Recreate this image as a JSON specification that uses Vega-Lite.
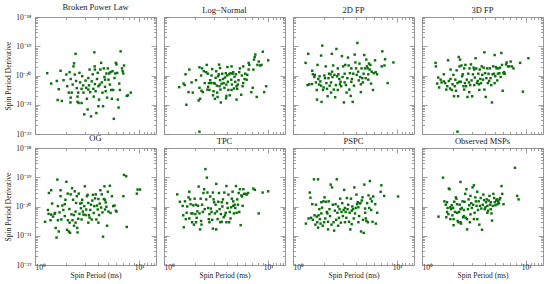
{
"$schema":"https://vega.github.io/schema/vega-lite/v6.json",
"padding":{"left":3,"top":2,"right":0,"bottom":0},
"background":"white",
"datasets":{
"bpl":[{"P":1.31,"Pdot":1.2e-20},{"P":1.43,"Pdot":5.3e-21},{"P":1.62,"Pdot":6.5e-21},{"P":1.76,"Pdot":1.45e-20},{"P":1.69,"Pdot":3.4e-21},{"P":1.65,"Pdot":1.45e-21},{"P":1.81,"Pdot":1.35e-21},{"P":1.88,"Pdot":6.9e-21},{"P":2.0,"Pdot":1.08e-20},{"P":2.04,"Pdot":4.3e-21},{"P":2.11,"Pdot":2.6e-21},{"P":2.15,"Pdot":1.3e-20},{"P":2.2,"Pdot":7.6e-21},{"P":2.25,"Pdot":2.6e-21},{"P":2.2,"Pdot":1.75e-21},{"P":2.19,"Pdot":1.2e-21},{"P":2.3,"Pdot":4.9e-21},{"P":2.34,"Pdot":2.05e-20},{"P":2.37,"Pdot":2.6e-20},{"P":2.45,"Pdot":5.5e-20},{"P":2.41,"Pdot":1.08e-20},{"P":2.48,"Pdot":6.5e-21},{"P":2.52,"Pdot":3.7e-21},{"P":2.56,"Pdot":1.9e-21},{"P":2.56,"Pdot":1.26e-21},{"P":2.62,"Pdot":1.15e-21},{"P":2.67,"Pdot":1.23e-20},{"P":2.71,"Pdot":5.8e-21},{"P":2.8,"Pdot":3.5e-21},{"P":2.84,"Pdot":9.5e-21},{"P":2.9,"Pdot":4.6e-21},{"P":2.92,"Pdot":2.6e-21},{"P":2.97,"Pdot":4.7e-22},{"P":3.06,"Pdot":6.7e-21},{"P":3.1,"Pdot":3.8e-21},{"P":3.15,"Pdot":1.6e-21},{"P":3.2,"Pdot":6.9e-22},{"P":3.25,"Pdot":8.2e-21},{"P":3.3,"Pdot":4.6e-21},{"P":3.34,"Pdot":1.6e-20},{"P":3.39,"Pdot":2.7e-21},{"P":3.45,"Pdot":4.0e-22},{"P":3.5,"Pdot":6.3e-21},{"P":3.58,"Pdot":1.1e-20},{"P":3.63,"Pdot":3.5e-21},{"P":3.66,"Pdot":1.9e-21},{"P":3.71,"Pdot":6.2e-20},{"P":3.74,"Pdot":2.05e-20},{"P":3.76,"Pdot":5.1e-21},{"P":3.82,"Pdot":2.9e-21},{"P":3.88,"Pdot":5.2e-22},{"P":3.94,"Pdot":7.6e-21},{"P":4.0,"Pdot":1.23e-20},{"P":4.06,"Pdot":4.3e-21},{"P":4.12,"Pdot":1.5e-21},{"P":4.18,"Pdot":4.9e-21},{"P":4.24,"Pdot":1.6e-20},{"P":4.31,"Pdot":2.7e-20},{"P":4.37,"Pdot":5.8e-21},{"P":4.44,"Pdot":2.6e-21},{"P":4.5,"Pdot":8.9e-22},{"P":4.57,"Pdot":1.75e-20},{"P":4.64,"Pdot":8.9e-21},{"P":4.7,"Pdot":4.1e-21},{"P":4.77,"Pdot":2.9e-21},{"P":4.84,"Pdot":1.17e-20},{"P":4.92,"Pdot":1.75e-21},{"P":5.0,"Pdot":1.75e-20},{"P":5.07,"Pdot":7.2e-21},{"P":5.15,"Pdot":1.17e-20},{"P":5.23,"Pdot":4.9e-21},{"P":5.31,"Pdot":1.3e-20},{"P":5.39,"Pdot":3.2e-21},{"P":5.47,"Pdot":1.6e-21},{"P":5.55,"Pdot":1.4e-20},{"P":5.63,"Pdot":3.2e-21},{"P":5.71,"Pdot":3.3e-22},{"P":5.8,"Pdot":8.2e-21},{"P":5.89,"Pdot":1.17e-20},{"P":5.97,"Pdot":2.7e-20},{"P":6.06,"Pdot":2.4e-20},{"P":6.15,"Pdot":1.23e-20},{"P":6.24,"Pdot":1.5e-21},{"P":6.34,"Pdot":8.0e-22},{"P":6.43,"Pdot":5.3e-21},{"P":6.63,"Pdot":6.7e-20},{"P":6.84,"Pdot":1.75e-20},{"P":6.94,"Pdot":1.4e-20},{"P":7.04,"Pdot":1.17e-20},{"P":7.15,"Pdot":2.2e-20},{"P":7.6,"Pdot":2.0e-21},{"P":7.8,"Pdot":2.1e-21},{"P":8.3,"Pdot":2.6e-21},{"P":6.53,"Pdot":3.2e-21},{"P":4.06,"Pdot":8.9e-22},{"P":2.8,"Pdot":1.15e-21},{"P":2.6,"Pdot":2.6e-21},{"P":3.76,"Pdot":1.6e-20},{"P":4.7,"Pdot":7.2e-21},{"P":3.25,"Pdot":3.3e-21}],
"logn":[{"P":1.4,"Pdot":4.0e-21},{"P":1.54,"Pdot":5.3e-21},{"P":1.58,"Pdot":4.7e-21},{"P":1.61,"Pdot":1.1e-20},{"P":1.64,"Pdot":1.0e-21},{"P":1.72,"Pdot":2.7e-21},{"P":1.75,"Pdot":1.6e-20},{"P":1.84,"Pdot":5.8e-21},{"P":2.03,"Pdot":6.9e-21},{"P":2.15,"Pdot":1.4e-21},{"P":2.19,"Pdot":3.8e-21},{"P":2.19,"Pdot":1.9e-20},{"P":2.22,"Pdot":1.6e-21},{"P":2.19,"Pdot":1.2e-22},{"P":2.27,"Pdot":1.0e-20},{"P":2.29,"Pdot":3.0e-21},{"P":2.32,"Pdot":1.75e-20},{"P":2.36,"Pdot":2.7e-21},{"P":2.41,"Pdot":1.4e-20},{"P":2.46,"Pdot":5.5e-21},{"P":2.54,"Pdot":1.3e-20},{"P":2.57,"Pdot":2.3e-20},{"P":2.61,"Pdot":3.3e-21},{"P":2.65,"Pdot":4.1e-21},{"P":2.7,"Pdot":5.5e-21},{"P":2.73,"Pdot":3.2e-21},{"P":2.78,"Pdot":6.9e-21},{"P":2.86,"Pdot":1.0e-20},{"P":2.9,"Pdot":1.65e-20},{"P":2.95,"Pdot":2.1e-21},{"P":2.99,"Pdot":2.9e-21},{"P":3.01,"Pdot":5.5e-21},{"P":3.08,"Pdot":5.3e-21},{"P":3.13,"Pdot":8.3e-21},{"P":3.17,"Pdot":1.4e-20},{"P":3.22,"Pdot":4.5e-21},{"P":3.24,"Pdot":2.6e-21},{"P":3.27,"Pdot":1.85e-21},{"P":3.31,"Pdot":9.4e-21},{"P":3.36,"Pdot":1.1e-20},{"P":3.38,"Pdot":2.35e-20},{"P":3.41,"Pdot":4.3e-21},{"P":3.45,"Pdot":6.9e-21},{"P":3.48,"Pdot":3.3e-21},{"P":3.51,"Pdot":1.2e-21},{"P":3.57,"Pdot":5.2e-21},{"P":3.62,"Pdot":1.15e-20},{"P":3.68,"Pdot":7.6e-21},{"P":3.74,"Pdot":5.5e-21},{"P":3.8,"Pdot":3.8e-21},{"P":3.85,"Pdot":8.5e-21},{"P":3.92,"Pdot":1.2e-20},{"P":3.94,"Pdot":1.65e-21},{"P":3.97,"Pdot":4.9e-21},{"P":4.03,"Pdot":1.0e-20},{"P":4.06,"Pdot":1.95e-20},{"P":4.1,"Pdot":6.1e-21},{"P":4.15,"Pdot":3.2e-21},{"P":4.22,"Pdot":1.1e-20},{"P":4.28,"Pdot":2.1e-21},{"P":4.35,"Pdot":1.2e-20},{"P":4.42,"Pdot":7.2e-21},{"P":4.45,"Pdot":2.05e-20},{"P":4.49,"Pdot":4.9e-21},{"P":4.55,"Pdot":1.15e-20},{"P":4.62,"Pdot":1.3e-20},{"P":4.69,"Pdot":3.6e-21},{"P":4.75,"Pdot":9.0e-21},{"P":4.82,"Pdot":6.1e-21},{"P":4.89,"Pdot":1.1e-20},{"P":4.97,"Pdot":4.3e-21},{"P":5.04,"Pdot":3.5e-21},{"P":5.11,"Pdot":4.9e-21},{"P":5.19,"Pdot":6.9e-21},{"P":5.27,"Pdot":1.3e-20},{"P":5.35,"Pdot":1.75e-20},{"P":5.51,"Pdot":2.2e-21},{"P":5.59,"Pdot":1.0e-20},{"P":5.68,"Pdot":4.3e-21},{"P":5.76,"Pdot":5.5e-21},{"P":5.93,"Pdot":7.6e-21},{"P":6.02,"Pdot":1.15e-20},{"P":6.21,"Pdot":7.2e-21},{"P":6.3,"Pdot":1.05e-20},{"P":6.49,"Pdot":1.6e-20},{"P":6.59,"Pdot":2.3e-20},{"P":6.89,"Pdot":2.7e-21},{"P":7.1,"Pdot":3.8e-21},{"P":7.21,"Pdot":1.6e-20},{"P":7.31,"Pdot":3.5e-20},{"P":7.42,"Pdot":4.3e-20},{"P":7.53,"Pdot":5.2e-20},{"P":7.76,"Pdot":1.85e-21},{"P":7.88,"Pdot":2.3e-20},{"P":8.12,"Pdot":3.0e-20},{"P":8.37,"Pdot":2.2e-20},{"P":8.62,"Pdot":2.3e-20},{"P":8.88,"Pdot":6.5e-20},{"P":9.15,"Pdot":2.7e-21},{"P":9.55,"Pdot":4.3e-21},{"P":10.0,"Pdot":3.3e-20},{"P":6.49,"Pdot":2.7e-20},{"P":3.97,"Pdot":2.0e-21},{"P":3.08,"Pdot":1.6e-21},{"P":4.97,"Pdot":1.5e-21},{"P":5.76,"Pdot":2.05e-20},{"P":4.45,"Pdot":3.2e-21},{"P":2.84,"Pdot":5.5e-21},{"P":2.63,"Pdot":1.15e-20},{"P":1.89,"Pdot":2.6e-21},{"P":3.45,"Pdot":1.8e-20}],
"fp2d":[{"P":1.32,"Pdot":2.7e-20},{"P":1.38,"Pdot":4.7e-21},{"P":1.4,"Pdot":5.5e-20},{"P":1.43,"Pdot":5.0e-21},{"P":1.52,"Pdot":5.1e-21},{"P":1.53,"Pdot":1.45e-20},{"P":1.55,"Pdot":1.1e-20},{"P":1.6,"Pdot":8.9e-21},{"P":1.62,"Pdot":1.05e-20},{"P":1.66,"Pdot":5.8e-21},{"P":1.69,"Pdot":3.2e-21},{"P":1.7,"Pdot":1.5e-21},{"P":1.72,"Pdot":2.3e-20},{"P":1.75,"Pdot":7.6e-21},{"P":1.78,"Pdot":4.9e-21},{"P":1.8,"Pdot":9.4e-21},{"P":1.83,"Pdot":6.3e-21},{"P":1.86,"Pdot":4.8e-20},{"P":1.88,"Pdot":1.25e-21},{"P":1.91,"Pdot":1.05e-19},{"P":1.94,"Pdot":3.2e-21},{"P":1.97,"Pdot":3.9e-21},{"P":2.0,"Pdot":1.0e-20},{"P":2.03,"Pdot":8.1e-21},{"P":2.06,"Pdot":2.05e-20},{"P":2.09,"Pdot":5.5e-21},{"P":2.12,"Pdot":3.5e-21},{"P":2.15,"Pdot":1.95e-21},{"P":2.19,"Pdot":8.1e-21},{"P":2.22,"Pdot":1.15e-20},{"P":2.25,"Pdot":4.5e-21},{"P":2.29,"Pdot":1.1e-20},{"P":2.32,"Pdot":5.8e-21},{"P":2.36,"Pdot":5.5e-20},{"P":2.37,"Pdot":1.35e-20},{"P":2.39,"Pdot":8.9e-21},{"P":2.43,"Pdot":2.2e-20},{"P":2.46,"Pdot":3.3e-21},{"P":2.5,"Pdot":1.05e-20},{"P":2.54,"Pdot":1.8e-21},{"P":2.58,"Pdot":4.7e-21},{"P":2.61,"Pdot":8.1e-20},{"P":2.65,"Pdot":9.4e-21},{"P":2.69,"Pdot":3.2e-21},{"P":2.73,"Pdot":1.1e-20},{"P":2.78,"Pdot":7.6e-21},{"P":2.82,"Pdot":5.0e-21},{"P":2.86,"Pdot":6.1e-21},{"P":2.9,"Pdot":4.3e-21},{"P":2.95,"Pdot":4.6e-20},{"P":2.99,"Pdot":8.9e-21},{"P":3.03,"Pdot":2.05e-20},{"P":3.08,"Pdot":1.2e-21},{"P":3.13,"Pdot":1.15e-20},{"P":3.17,"Pdot":2.3e-20},{"P":3.22,"Pdot":4.7e-21},{"P":3.27,"Pdot":2.6e-21},{"P":3.32,"Pdot":8.1e-21},{"P":3.37,"Pdot":4.1e-20},{"P":3.42,"Pdot":2.2e-20},{"P":3.47,"Pdot":3.3e-21},{"P":3.52,"Pdot":1.2e-20},{"P":3.58,"Pdot":2.0e-21},{"P":3.63,"Pdot":6.1e-21},{"P":3.68,"Pdot":7.6e-21},{"P":3.74,"Pdot":1.25e-21},{"P":3.79,"Pdot":1.15e-20},{"P":3.85,"Pdot":4.5e-21},{"P":3.91,"Pdot":5.2e-20},{"P":3.97,"Pdot":2.8e-20},{"P":4.03,"Pdot":1.75e-20},{"P":4.09,"Pdot":1.05e-20},{"P":4.15,"Pdot":1.3e-19},{"P":4.22,"Pdot":1.35e-20},{"P":4.28,"Pdot":6.8e-21},{"P":4.35,"Pdot":2.55e-20},{"P":4.41,"Pdot":8.9e-21},{"P":4.48,"Pdot":5.0e-21},{"P":4.55,"Pdot":1.75e-20},{"P":4.62,"Pdot":8.1e-21},{"P":4.69,"Pdot":5.8e-21},{"P":4.76,"Pdot":1.15e-20},{"P":4.83,"Pdot":5.0e-20},{"P":4.91,"Pdot":1.75e-20},{"P":4.98,"Pdot":8.1e-21},{"P":5.05,"Pdot":3.5e-20},{"P":5.13,"Pdot":2.05e-20},{"P":5.21,"Pdot":1.75e-20},{"P":5.28,"Pdot":1.1e-20},{"P":5.36,"Pdot":2.55e-20},{"P":5.44,"Pdot":1.6e-20},{"P":5.53,"Pdot":2.3e-20},{"P":5.61,"Pdot":5.3e-21},{"P":5.69,"Pdot":1.35e-20},{"P":5.86,"Pdot":3.2e-21},{"P":5.95,"Pdot":1.2e-20},{"P":6.13,"Pdot":3.3e-20},{"P":6.22,"Pdot":1.3e-20},{"P":6.41,"Pdot":1.1e-20},{"P":7.1,"Pdot":2.05e-20},{"P":7.2,"Pdot":6.7e-20},{"P":7.55,"Pdot":2.2e-20},{"P":7.65,"Pdot":3.6e-20},{"P":8.1,"Pdot":5.5e-21},{"P":9.2,"Pdot":2.8e-20},{"P":4.48,"Pdot":2.7e-21},{"P":3.13,"Pdot":5.8e-21},{"P":2.32,"Pdot":2.6e-21},{"P":1.86,"Pdot":4.5e-21},{"P":2.69,"Pdot":1.75e-20},{"P":3.63,"Pdot":1.75e-20},{"P":5.28,"Pdot":7.2e-21}],
"fp3d":[{"P":1.35,"Pdot":2.7e-20},{"P":1.36,"Pdot":2.05e-20},{"P":1.4,"Pdot":5.3e-21},{"P":1.43,"Pdot":8.5e-21},{"P":1.46,"Pdot":3.9e-21},{"P":1.51,"Pdot":7.2e-21},{"P":1.54,"Pdot":5.8e-21},{"P":1.62,"Pdot":1.1e-20},{"P":1.67,"Pdot":5.5e-21},{"P":1.71,"Pdot":3.3e-21},{"P":1.75,"Pdot":4.3e-21},{"P":1.78,"Pdot":3.3e-20},{"P":1.81,"Pdot":6.5e-21},{"P":1.86,"Pdot":3.6e-21},{"P":1.88,"Pdot":7.6e-21},{"P":1.93,"Pdot":3.2e-21},{"P":1.96,"Pdot":5.0e-21},{"P":2.0,"Pdot":1.05e-20},{"P":2.03,"Pdot":1.95e-21},{"P":2.06,"Pdot":4.3e-21},{"P":2.09,"Pdot":7.2e-21},{"P":2.12,"Pdot":3.0e-21},{"P":2.15,"Pdot":1.5e-20},{"P":2.19,"Pdot":5.5e-21},{"P":2.22,"Pdot":1.95e-21},{"P":2.25,"Pdot":4.3e-20},{"P":2.27,"Pdot":6.1e-21},{"P":2.29,"Pdot":2.05e-20},{"P":2.32,"Pdot":3.5e-20},{"P":2.36,"Pdot":6.1e-21},{"P":2.39,"Pdot":2.2e-20},{"P":2.43,"Pdot":9.4e-21},{"P":2.46,"Pdot":1.1e-20},{"P":2.5,"Pdot":4.3e-21},{"P":2.54,"Pdot":1.75e-20},{"P":2.58,"Pdot":5.5e-21},{"P":2.61,"Pdot":2.3e-20},{"P":2.65,"Pdot":4.3e-21},{"P":2.69,"Pdot":7.2e-21},{"P":2.73,"Pdot":1.85e-21},{"P":2.78,"Pdot":1.15e-20},{"P":2.82,"Pdot":5.8e-21},{"P":2.86,"Pdot":1.75e-20},{"P":2.9,"Pdot":4.7e-21},{"P":2.95,"Pdot":2.4e-20},{"P":2.99,"Pdot":6.8e-21},{"P":3.03,"Pdot":1.95e-21},{"P":3.08,"Pdot":1.1e-20},{"P":3.13,"Pdot":1.85e-20},{"P":3.17,"Pdot":4.7e-21},{"P":3.22,"Pdot":8.5e-21},{"P":3.27,"Pdot":3.9e-20},{"P":3.32,"Pdot":1.75e-20},{"P":3.37,"Pdot":5.5e-21},{"P":3.42,"Pdot":6.5e-21},{"P":3.47,"Pdot":1.15e-20},{"P":3.52,"Pdot":5.0e-21},{"P":3.58,"Pdot":1.6e-20},{"P":3.63,"Pdot":7.6e-21},{"P":3.68,"Pdot":5.5e-21},{"P":3.74,"Pdot":2.05e-20},{"P":3.79,"Pdot":1.05e-20},{"P":3.85,"Pdot":7.2e-21},{"P":3.91,"Pdot":1.85e-20},{"P":3.97,"Pdot":6.2e-20},{"P":4.03,"Pdot":1.2e-20},{"P":4.09,"Pdot":1.85e-21},{"P":4.15,"Pdot":8.1e-21},{"P":4.22,"Pdot":1.75e-20},{"P":4.28,"Pdot":5.5e-21},{"P":4.35,"Pdot":1.15e-20},{"P":4.41,"Pdot":6.5e-21},{"P":4.48,"Pdot":1.75e-20},{"P":4.55,"Pdot":8.1e-21},{"P":4.62,"Pdot":4.7e-21},{"P":4.69,"Pdot":1.2e-21},{"P":4.76,"Pdot":1.1e-20},{"P":4.83,"Pdot":2.05e-20},{"P":4.91,"Pdot":1.15e-20},{"P":4.98,"Pdot":5.0e-20},{"P":5.05,"Pdot":9.4e-21},{"P":5.13,"Pdot":1.95e-20},{"P":5.21,"Pdot":1.75e-20},{"P":5.28,"Pdot":6.8e-21},{"P":5.36,"Pdot":1.15e-20},{"P":5.44,"Pdot":1.75e-20},{"P":5.53,"Pdot":1.2e-20},{"P":5.61,"Pdot":1.85e-20},{"P":5.69,"Pdot":8.9e-21},{"P":5.78,"Pdot":5.9e-20},{"P":5.86,"Pdot":2.3e-20},{"P":5.95,"Pdot":3.0e-21},{"P":6.04,"Pdot":1.2e-20},{"P":6.13,"Pdot":1.3e-20},{"P":6.22,"Pdot":1.15e-20},{"P":6.41,"Pdot":2.4e-20},{"P":6.5,"Pdot":2.8e-20},{"P":6.69,"Pdot":2.05e-20},{"P":6.89,"Pdot":2.05e-20},{"P":7.1,"Pdot":3.0e-20},{"P":7.3,"Pdot":2.05e-20},{"P":7.55,"Pdot":1.75e-20},{"P":8.75,"Pdot":2.7e-20},{"P":9.3,"Pdot":2.8e-21},{"P":10.5,"Pdot":3.9e-20},{"P":2.19,"Pdot":1.2e-22},{"P":3.17,"Pdot":1.6e-20},{"P":2.54,"Pdot":3.3e-21},{"P":1.88,"Pdot":1.6e-20},{"P":3.97,"Pdot":3.3e-21},{"P":4.98,"Pdot":5.5e-21},{"P":1.62,"Pdot":6.3e-21},{"P":2.84,"Pdot":2.7e-21},{"P":3.55,"Pdot":3.2e-21}],
"og":[{"P":1.25,"Pdot":3.0e-21},{"P":1.33,"Pdot":7.6e-21},{"P":1.35,"Pdot":5.6e-21},{"P":1.36,"Pdot":2.9e-20},{"P":1.41,"Pdot":3.4e-21},{"P":1.43,"Pdot":3.6e-20},{"P":1.46,"Pdot":1.26e-20},{"P":1.49,"Pdot":4.5e-21},{"P":1.54,"Pdot":5.6e-21},{"P":1.56,"Pdot":6.0e-21},{"P":1.58,"Pdot":1.85e-21},{"P":1.61,"Pdot":8.7e-22},{"P":1.64,"Pdot":8.3e-20},{"P":1.66,"Pdot":3.4e-21},{"P":1.69,"Pdot":1.4e-21},{"P":1.72,"Pdot":6.3e-21},{"P":1.76,"Pdot":3.6e-20},{"P":1.79,"Pdot":3.6e-21},{"P":1.83,"Pdot":1.08e-20},{"P":1.87,"Pdot":7.6e-21},{"P":1.93,"Pdot":1.2e-20},{"P":1.96,"Pdot":1.7e-20},{"P":2.0,"Pdot":7.0e-20},{"P":2.03,"Pdot":1.6e-21},{"P":2.06,"Pdot":2.75e-20},{"P":2.07,"Pdot":3.4e-21},{"P":2.11,"Pdot":1.4e-21},{"P":2.14,"Pdot":8.2e-21},{"P":2.17,"Pdot":1.26e-21},{"P":2.2,"Pdot":2.6e-20},{"P":2.24,"Pdot":5.4e-21},{"P":2.27,"Pdot":4.2e-20},{"P":2.29,"Pdot":3.4e-21},{"P":2.32,"Pdot":1.7e-20},{"P":2.36,"Pdot":5.1e-21},{"P":2.37,"Pdot":2.2e-21},{"P":2.41,"Pdot":3.3e-20},{"P":2.45,"Pdot":2.8e-21},{"P":2.48,"Pdot":1.32e-20},{"P":2.52,"Pdot":2.25e-20},{"P":2.54,"Pdot":1.85e-21},{"P":2.56,"Pdot":1.3e-21},{"P":2.6,"Pdot":3.8e-21},{"P":2.63,"Pdot":2.75e-20},{"P":2.67,"Pdot":5.6e-21},{"P":2.71,"Pdot":1.26e-20},{"P":2.76,"Pdot":8.7e-21},{"P":2.8,"Pdot":3.6e-21},{"P":2.84,"Pdot":1.7e-20},{"P":2.88,"Pdot":6.7e-21},{"P":2.92,"Pdot":5.3e-21},{"P":2.97,"Pdot":1.03e-20},{"P":3.01,"Pdot":4.9e-20},{"P":3.06,"Pdot":5.1e-21},{"P":3.1,"Pdot":7.9e-21},{"P":3.15,"Pdot":2.25e-20},{"P":3.2,"Pdot":2.5e-20},{"P":3.25,"Pdot":1.32e-20},{"P":3.29,"Pdot":5.1e-21},{"P":3.34,"Pdot":4.2e-21},{"P":3.39,"Pdot":7.6e-21},{"P":3.45,"Pdot":1.15e-20},{"P":3.5,"Pdot":3.6e-21},{"P":3.55,"Pdot":1.6e-20},{"P":3.6,"Pdot":2.5e-20},{"P":3.66,"Pdot":6.0e-21},{"P":3.71,"Pdot":1.03e-20},{"P":3.77,"Pdot":1.9e-20},{"P":3.83,"Pdot":2.6e-20},{"P":3.88,"Pdot":3.6e-21},{"P":3.94,"Pdot":1.08e-20},{"P":4.0,"Pdot":7.9e-21},{"P":4.06,"Pdot":1.8e-20},{"P":4.12,"Pdot":5.1e-21},{"P":4.18,"Pdot":1.26e-20},{"P":4.24,"Pdot":3.6e-20},{"P":4.31,"Pdot":9.2e-21},{"P":4.37,"Pdot":2.6e-20},{"P":4.44,"Pdot":6.3e-21},{"P":4.5,"Pdot":9.3e-22},{"P":4.57,"Pdot":1.8e-20},{"P":4.64,"Pdot":4.9e-20},{"P":4.7,"Pdot":7.9e-21},{"P":4.77,"Pdot":1.38e-20},{"P":4.84,"Pdot":9.8e-21},{"P":4.92,"Pdot":2.2e-21},{"P":5.0,"Pdot":3.2e-20},{"P":5.07,"Pdot":6.7e-21},{"P":5.23,"Pdot":5.1e-20},{"P":5.31,"Pdot":6.0e-21},{"P":5.47,"Pdot":2.25e-20},{"P":5.63,"Pdot":1.03e-20},{"P":5.8,"Pdot":1.08e-20},{"P":5.97,"Pdot":7.2e-21},{"P":6.06,"Pdot":6.7e-21},{"P":7.05,"Pdot":2.25e-20},{"P":7.15,"Pdot":1.2e-19},{"P":7.5,"Pdot":1.08e-19},{"P":7.6,"Pdot":2.0e-21},{"P":9.5,"Pdot":2.75e-20},{"P":9.65,"Pdot":3.8e-20},{"P":10.2,"Pdot":3.8e-20},{"P":1.76,"Pdot":2.25e-20},{"P":1.93,"Pdot":4.7e-21},{"P":2.45,"Pdot":6.7e-21},{"P":3.25,"Pdot":2.8e-21},{"P":4.06,"Pdot":2.8e-21},{"P":2.8,"Pdot":1.32e-20},{"P":2.15,"Pdot":2.8e-21},{"P":4.7,"Pdot":1.7e-20},{"P":1.66,"Pdot":1.03e-20},{"P":1.43,"Pdot":5.3e-21}],
"tpc":[{"P":1.34,"Pdot":2.6e-20},{"P":1.42,"Pdot":1.45e-20},{"P":1.51,"Pdot":1.05e-20},{"P":1.53,"Pdot":5.0e-21},{"P":1.55,"Pdot":1.95e-21},{"P":1.59,"Pdot":1.5e-20},{"P":1.62,"Pdot":3.7e-21},{"P":1.65,"Pdot":6.1e-21},{"P":1.67,"Pdot":1.0e-20},{"P":1.72,"Pdot":2.05e-20},{"P":1.75,"Pdot":3.2e-20},{"P":1.78,"Pdot":1.75e-20},{"P":1.8,"Pdot":1.2e-20},{"P":1.83,"Pdot":5.8e-21},{"P":1.86,"Pdot":2.9e-21},{"P":1.88,"Pdot":5.8e-21},{"P":1.91,"Pdot":1.1e-20},{"P":1.94,"Pdot":2.4e-21},{"P":1.97,"Pdot":1.85e-20},{"P":2.0,"Pdot":5.5e-21},{"P":2.03,"Pdot":1.15e-20},{"P":2.06,"Pdot":4.1e-21},{"P":2.09,"Pdot":6.8e-21},{"P":2.12,"Pdot":1.05e-20},{"P":2.15,"Pdot":4.8e-20},{"P":2.19,"Pdot":5.8e-21},{"P":2.22,"Pdot":1.65e-21},{"P":2.25,"Pdot":1.85e-20},{"P":2.27,"Pdot":3.2e-21},{"P":2.29,"Pdot":2.4e-21},{"P":2.32,"Pdot":1.15e-20},{"P":2.36,"Pdot":6.5e-21},{"P":2.39,"Pdot":2.9e-20},{"P":2.43,"Pdot":3.9e-20},{"P":2.46,"Pdot":8.1e-21},{"P":2.5,"Pdot":1.9e-19},{"P":2.54,"Pdot":1.75e-20},{"P":2.58,"Pdot":9.7e-20},{"P":2.61,"Pdot":3.0e-20},{"P":2.65,"Pdot":8.9e-21},{"P":2.69,"Pdot":3.7e-21},{"P":2.73,"Pdot":5.5e-21},{"P":2.78,"Pdot":2.2e-20},{"P":2.82,"Pdot":8.5e-21},{"P":2.86,"Pdot":6.5e-21},{"P":2.9,"Pdot":3.5e-21},{"P":2.95,"Pdot":1.75e-21},{"P":2.99,"Pdot":1.75e-20},{"P":3.03,"Pdot":1.4e-20},{"P":3.08,"Pdot":5.8e-21},{"P":3.13,"Pdot":1.15e-20},{"P":3.17,"Pdot":5.9e-20},{"P":3.22,"Pdot":6.8e-21},{"P":3.27,"Pdot":3.7e-21},{"P":3.32,"Pdot":1.45e-20},{"P":3.37,"Pdot":2.9e-20},{"P":3.42,"Pdot":8.1e-21},{"P":3.47,"Pdot":2.9e-21},{"P":3.52,"Pdot":5.5e-21},{"P":3.58,"Pdot":3.0e-21},{"P":3.63,"Pdot":1.0e-20},{"P":3.68,"Pdot":1.75e-20},{"P":3.74,"Pdot":4.3e-21},{"P":3.79,"Pdot":3.0e-20},{"P":3.85,"Pdot":5.0e-21},{"P":3.91,"Pdot":6.1e-21},{"P":3.97,"Pdot":2.9e-21},{"P":4.03,"Pdot":1.3e-20},{"P":4.09,"Pdot":8.9e-21},{"P":4.15,"Pdot":2.55e-20},{"P":4.22,"Pdot":2.9e-21},{"P":4.28,"Pdot":6.5e-21},{"P":4.35,"Pdot":3.9e-21},{"P":4.41,"Pdot":9.4e-21},{"P":4.48,"Pdot":1.85e-20},{"P":4.55,"Pdot":3.2e-20},{"P":4.62,"Pdot":1.5e-20},{"P":4.69,"Pdot":5.8e-21},{"P":4.76,"Pdot":1.15e-20},{"P":4.83,"Pdot":8.9e-21},{"P":4.91,"Pdot":5.0e-20},{"P":4.98,"Pdot":6.1e-21},{"P":5.05,"Pdot":1.75e-20},{"P":5.13,"Pdot":1.15e-20},{"P":5.21,"Pdot":2.9e-20},{"P":5.28,"Pdot":6.5e-21},{"P":5.36,"Pdot":3.9e-20},{"P":5.44,"Pdot":2.3e-21},{"P":5.53,"Pdot":2.4e-20},{"P":5.61,"Pdot":2.2e-20},{"P":5.69,"Pdot":1.05e-20},{"P":5.78,"Pdot":3.9e-20},{"P":5.86,"Pdot":2.7e-20},{"P":6.04,"Pdot":2.7e-20},{"P":6.22,"Pdot":2.55e-20},{"P":6.41,"Pdot":2.9e-20},{"P":7.2,"Pdot":4.1e-20},{"P":7.45,"Pdot":3.7e-20},{"P":8.1,"Pdot":5.8e-21},{"P":8.85,"Pdot":3.0e-20},{"P":10.0,"Pdot":3.3e-20},{"P":1.75,"Pdot":3.9e-21},{"P":3.17,"Pdot":1.65e-21},{"P":2.95,"Pdot":3.0e-20},{"P":2.03,"Pdot":2.9e-21},{"P":3.97,"Pdot":5.0e-20},{"P":2.73,"Pdot":2.9e-21},{"P":3.58,"Pdot":1.4e-20},{"P":4.62,"Pdot":1.05e-20}],
"pspc":[{"P":1.33,"Pdot":2.6e-21},{"P":1.41,"Pdot":3.9e-21},{"P":1.45,"Pdot":3.0e-20},{"P":1.47,"Pdot":2.0e-20},{"P":1.49,"Pdot":4.1e-21},{"P":1.53,"Pdot":1.2e-20},{"P":1.55,"Pdot":3.5e-21},{"P":1.59,"Pdot":8.5e-20},{"P":1.61,"Pdot":5.0e-21},{"P":1.64,"Pdot":2.4e-21},{"P":1.66,"Pdot":1.15e-20},{"P":1.69,"Pdot":4.5e-21},{"P":1.71,"Pdot":2.9e-21},{"P":1.74,"Pdot":8.5e-20},{"P":1.76,"Pdot":5.0e-21},{"P":1.79,"Pdot":8.1e-21},{"P":1.81,"Pdot":3.7e-21},{"P":1.84,"Pdot":2.6e-21},{"P":1.87,"Pdot":5.8e-21},{"P":1.9,"Pdot":9.1e-21},{"P":1.93,"Pdot":2.2e-21},{"P":1.96,"Pdot":1.5e-20},{"P":1.99,"Pdot":2.9e-21},{"P":2.01,"Pdot":2.05e-20},{"P":2.04,"Pdot":3.9e-21},{"P":2.07,"Pdot":1.45e-20},{"P":2.11,"Pdot":6.5e-21},{"P":2.14,"Pdot":5.8e-21},{"P":2.17,"Pdot":3.0e-21},{"P":2.2,"Pdot":1.5e-20},{"P":2.24,"Pdot":8.1e-21},{"P":2.27,"Pdot":4.7e-21},{"P":2.3,"Pdot":5.6e-20},{"P":2.34,"Pdot":2.4e-21},{"P":2.37,"Pdot":4.5e-20},{"P":2.41,"Pdot":1.15e-20},{"P":2.45,"Pdot":2.9e-21},{"P":2.48,"Pdot":1.5e-21},{"P":2.52,"Pdot":7.2e-21},{"P":2.56,"Pdot":1.2e-20},{"P":2.6,"Pdot":3.5e-21},{"P":2.63,"Pdot":8.5e-20},{"P":2.67,"Pdot":6.1e-21},{"P":2.71,"Pdot":1.0e-20},{"P":2.76,"Pdot":4.1e-21},{"P":2.8,"Pdot":8.1e-21},{"P":2.84,"Pdot":1.85e-20},{"P":2.88,"Pdot":2.8e-21},{"P":2.92,"Pdot":6.5e-21},{"P":2.97,"Pdot":1.3e-20},{"P":3.01,"Pdot":4.7e-21},{"P":3.06,"Pdot":7.6e-21},{"P":3.1,"Pdot":3.7e-20},{"P":3.15,"Pdot":8.9e-21},{"P":3.2,"Pdot":6.5e-21},{"P":3.25,"Pdot":4.1e-21},{"P":3.29,"Pdot":1.95e-20},{"P":3.34,"Pdot":8.1e-21},{"P":3.39,"Pdot":1.15e-20},{"P":3.45,"Pdot":3.0e-21},{"P":3.5,"Pdot":6.1e-21},{"P":3.55,"Pdot":1.65e-21},{"P":3.6,"Pdot":1.85e-20},{"P":3.66,"Pdot":7.2e-21},{"P":3.71,"Pdot":1.0e-20},{"P":3.77,"Pdot":8.1e-21},{"P":3.83,"Pdot":3.9e-21},{"P":3.88,"Pdot":4.5e-20},{"P":3.94,"Pdot":5.8e-21},{"P":4.0,"Pdot":8.9e-21},{"P":4.06,"Pdot":2.55e-20},{"P":4.12,"Pdot":1.2e-20},{"P":4.18,"Pdot":1.4e-20},{"P":4.24,"Pdot":9.4e-21},{"P":4.31,"Pdot":4.7e-21},{"P":4.37,"Pdot":1.3e-20},{"P":4.44,"Pdot":1.3e-20},{"P":4.5,"Pdot":1.4e-21},{"P":4.57,"Pdot":1.6e-20},{"P":4.64,"Pdot":2.05e-20},{"P":4.7,"Pdot":3.5e-21},{"P":4.77,"Pdot":1.25e-21},{"P":4.84,"Pdot":5.6e-20},{"P":4.92,"Pdot":8.5e-21},{"P":5.0,"Pdot":3.9e-21},{"P":5.07,"Pdot":3.2e-21},{"P":5.15,"Pdot":1.3e-20},{"P":5.23,"Pdot":2.9e-21},{"P":5.31,"Pdot":2.4e-20},{"P":5.39,"Pdot":8.9e-21},{"P":5.47,"Pdot":7.4e-20},{"P":5.55,"Pdot":1.85e-20},{"P":5.63,"Pdot":7.6e-21},{"P":5.71,"Pdot":1.5e-20},{"P":5.8,"Pdot":3.0e-21},{"P":5.89,"Pdot":2.2e-20},{"P":6.15,"Pdot":1.2e-20},{"P":6.24,"Pdot":2.6e-21},{"P":6.43,"Pdot":6.1e-21},{"P":6.94,"Pdot":3.2e-20},{"P":7.04,"Pdot":5.3e-20},{"P":7.5,"Pdot":2.3e-20},{"P":10.2,"Pdot":2.2e-20},{"P":2.17,"Pdot":1.65e-21},{"P":3.15,"Pdot":2.9e-21},{"P":4.24,"Pdot":2.9e-21},{"P":1.74,"Pdot":1.9e-21},{"P":2.71,"Pdot":2.2e-21},{"P":3.66,"Pdot":2.5e-21},{"P":4.92,"Pdot":6.1e-21},{"P":1.87,"Pdot":1.4e-20}],
"obs":[{"P":1.44,"Pdot":4.5e-21},{"P":1.59,"Pdot":9.7e-20},{"P":1.64,"Pdot":1.5e-20},{"P":1.69,"Pdot":1.15e-20},{"P":1.71,"Pdot":4.3e-21},{"P":1.74,"Pdot":6.5e-21},{"P":1.76,"Pdot":8.9e-21},{"P":1.79,"Pdot":5.5e-21},{"P":1.81,"Pdot":4.1e-20},{"P":1.84,"Pdot":3.9e-20},{"P":1.87,"Pdot":9.4e-21},{"P":1.9,"Pdot":8.1e-21},{"P":1.93,"Pdot":1.1e-20},{"P":1.96,"Pdot":5.0e-21},{"P":1.99,"Pdot":8.9e-21},{"P":2.01,"Pdot":2.3e-21},{"P":2.04,"Pdot":1.45e-20},{"P":2.07,"Pdot":6.5e-21},{"P":2.11,"Pdot":2.05e-20},{"P":2.14,"Pdot":1.85e-20},{"P":2.17,"Pdot":1.2e-20},{"P":2.2,"Pdot":3.2e-21},{"P":2.24,"Pdot":2.9e-21},{"P":2.27,"Pdot":6.5e-21},{"P":2.3,"Pdot":1.15e-20},{"P":2.34,"Pdot":6.9e-20},{"P":2.37,"Pdot":2.6e-21},{"P":2.41,"Pdot":8.9e-21},{"P":2.45,"Pdot":1.5e-20},{"P":2.48,"Pdot":4.3e-21},{"P":2.52,"Pdot":7.6e-21},{"P":2.56,"Pdot":1.45e-20},{"P":2.6,"Pdot":2.7e-20},{"P":2.63,"Pdot":4.1e-21},{"P":2.67,"Pdot":3.9e-20},{"P":2.71,"Pdot":1.65e-21},{"P":2.76,"Pdot":8.1e-21},{"P":2.8,"Pdot":1.75e-20},{"P":2.84,"Pdot":1.1e-20},{"P":2.88,"Pdot":2.9e-21},{"P":2.92,"Pdot":2.3e-20},{"P":2.97,"Pdot":1.3e-20},{"P":3.01,"Pdot":8.9e-21},{"P":3.06,"Pdot":4.5e-20},{"P":3.1,"Pdot":1.15e-20},{"P":3.15,"Pdot":5.3e-20},{"P":3.2,"Pdot":6.1e-21},{"P":3.25,"Pdot":2.05e-20},{"P":3.29,"Pdot":1.5e-20},{"P":3.34,"Pdot":1.05e-20},{"P":3.39,"Pdot":3.2e-20},{"P":3.45,"Pdot":7.6e-21},{"P":3.5,"Pdot":1.5e-20},{"P":3.55,"Pdot":2.4e-21},{"P":3.6,"Pdot":1.05e-20},{"P":3.66,"Pdot":1.95e-20},{"P":3.71,"Pdot":8.5e-21},{"P":3.77,"Pdot":1.6e-21},{"P":3.83,"Pdot":1.15e-20},{"P":3.88,"Pdot":2.55e-20},{"P":3.94,"Pdot":1.65e-20},{"P":4.0,"Pdot":8.1e-21},{"P":4.06,"Pdot":9.4e-21},{"P":4.12,"Pdot":1.4e-20},{"P":4.18,"Pdot":1.75e-20},{"P":4.24,"Pdot":1.05e-20},{"P":4.31,"Pdot":7.2e-21},{"P":4.37,"Pdot":1.6e-20},{"P":4.44,"Pdot":2.3e-20},{"P":4.5,"Pdot":1.15e-20},{"P":4.57,"Pdot":1.4e-20},{"P":4.64,"Pdot":5.8e-21},{"P":4.7,"Pdot":3.3e-21},{"P":4.77,"Pdot":1.05e-20},{"P":4.84,"Pdot":2.7e-20},{"P":4.92,"Pdot":1.95e-20},{"P":5.0,"Pdot":1.4e-20},{"P":5.07,"Pdot":1.1e-20},{"P":5.15,"Pdot":1.6e-20},{"P":5.23,"Pdot":1.75e-20},{"P":5.31,"Pdot":1.2e-20},{"P":5.39,"Pdot":1.5e-20},{"P":5.47,"Pdot":1.3e-20},{"P":5.55,"Pdot":1.75e-20},{"P":5.63,"Pdot":1.95e-20},{"P":5.8,"Pdot":5.0e-20},{"P":5.89,"Pdot":2.7e-20},{"P":6.06,"Pdot":1.2e-20},{"P":7.8,"Pdot":2.1e-19},{"P":8.2,"Pdot":2.3e-20},{"P":8.45,"Pdot":1.75e-20},{"P":1.87,"Pdot":3.7e-21},{"P":2.17,"Pdot":6.1e-21},{"P":2.34,"Pdot":2.9e-21},{"P":2.52,"Pdot":4.7e-21},{"P":3.15,"Pdot":3.7e-21},{"P":2.71,"Pdot":3.7e-21},{"P":2.01,"Pdot":3.7e-21},{"P":2.34,"Pdot":8.1e-21},{"P":3.39,"Pdot":3.7e-21},{"P":4.24,"Pdot":6.1e-21},{"P":2.92,"Pdot":5.4e-21},{"P":4.57,"Pdot":8.1e-21},{"P":1.74,"Pdot":1.4e-20}]
},
"bounds":"flush",
"columns":4,
"spacing":{"row":14,"column":8},
"concat":[
{"title":"Broken Power Law","data":{"name":"bpl"},"width":121,"height":117,"layer":[
{"mark":{"type":"square","filled":true,"size":6,"color":"#0b6f0b","opacity":1},"encoding":{"x":{"field":"P","type":"quantitative","scale":{"type":"log","domain":[1,14.5],"nice":false},"axis":{"orient":"bottom","values":[1,10],"tickSize":-5,"labels":false,"title":null}},"y":{"field":"Pdot","type":"quantitative","scale":{"type":"log","domain":[1e-22,1e-18],"nice":false},"axis":{"orient":"left","values":[1e-22,1e-21,1e-20,1e-19,1e-18],"tickSize":-5,"labelPadding":9,"labelExpr":"'10' + (datum.value > 5e-19 ? '⁻¹⁸' : datum.value > 5e-20 ? '⁻¹⁹' : datum.value > 5e-21 ? '⁻²⁰' : datum.value > 5e-22 ? '⁻²¹' : '⁻²²')","title":"Spin Period Derivative","titlePadding":3}}}},
{"mark":{"type":"point","opacity":0},"encoding":{"x":{"field":"P","type":"quantitative","axis":{"orient":"bottom","values":[2,3,4,5,6,7,8,9,11,12,13,14],"tickSize":-2.5,"labels":false,"title":null}},"y":{"field":"Pdot","type":"quantitative","axis":{"orient":"left","values":[2e-22,3e-22,4e-22,5e-22,6e-22,7e-22,8e-22,9e-22,2e-21,3e-21,4e-21,5e-21,6e-21,7e-21,8e-21,9e-21,2e-20,3e-20,4e-20,5e-20,6e-20,7e-20,8e-20,9e-20,2e-19,3e-19,4e-19,5e-19,6e-19,7e-19,8e-19,9e-19],"tickSize":-2.5,"labels":false,"title":null}}}},
{"mark":{"type":"point","opacity":0},"encoding":{"x":{"field":"P","type":"quantitative","axis":{"orient":"top","values":[1,10],"tickSize":-5,"labels":false,"title":null}},"y":{"field":"Pdot","type":"quantitative","axis":{"orient":"right","values":[1e-22,1e-21,1e-20,1e-19,1e-18],"tickSize":-5,"labels":false,"title":null}}}},
{"mark":{"type":"point","opacity":0},"encoding":{"x":{"field":"P","type":"quantitative","axis":{"orient":"top","values":[2,3,4,5,6,7,8,9,11,12,13,14],"tickSize":-2.5,"labels":false,"title":null}},"y":{"field":"Pdot","type":"quantitative","axis":{"orient":"right","values":[2e-22,3e-22,4e-22,5e-22,6e-22,7e-22,8e-22,9e-22,2e-21,3e-21,4e-21,5e-21,6e-21,7e-21,8e-21,9e-21,2e-20,3e-20,4e-20,5e-20,6e-20,7e-20,8e-20,9e-20,2e-19,3e-19,4e-19,5e-19,6e-19,7e-19,8e-19,9e-19],"tickSize":-2.5,"labels":false,"title":null}}}}
],"resolve":{"axis":{"x":"independent","y":"independent"}}},
{"title":"Log−Normal","data":{"name":"logn"},"width":121,"height":117,"layer":[
{"mark":{"type":"square","filled":true,"size":6,"color":"#0b6f0b","opacity":1},"encoding":{"x":{"field":"P","type":"quantitative","scale":{"type":"log","domain":[1,14.5],"nice":false},"axis":{"orient":"bottom","values":[1,10],"tickSize":-5,"labels":false,"title":null}},"y":{"field":"Pdot","type":"quantitative","scale":{"type":"log","domain":[1e-22,1e-18],"nice":false},"axis":{"orient":"left","values":[1e-22,1e-21,1e-20,1e-19,1e-18],"tickSize":-5,"labels":false,"title":null}}}},
{"mark":{"type":"point","opacity":0},"encoding":{"x":{"field":"P","type":"quantitative","axis":{"orient":"bottom","values":[2,3,4,5,6,7,8,9,11,12,13,14],"tickSize":-2.5,"labels":false,"title":null}},"y":{"field":"Pdot","type":"quantitative","axis":{"orient":"left","values":[2e-22,3e-22,4e-22,5e-22,6e-22,7e-22,8e-22,9e-22,2e-21,3e-21,4e-21,5e-21,6e-21,7e-21,8e-21,9e-21,2e-20,3e-20,4e-20,5e-20,6e-20,7e-20,8e-20,9e-20,2e-19,3e-19,4e-19,5e-19,6e-19,7e-19,8e-19,9e-19],"tickSize":-2.5,"labels":false,"title":null}}}},
{"mark":{"type":"point","opacity":0},"encoding":{"x":{"field":"P","type":"quantitative","axis":{"orient":"top","values":[1,10],"tickSize":-5,"labels":false,"title":null}},"y":{"field":"Pdot","type":"quantitative","axis":{"orient":"right","values":[1e-22,1e-21,1e-20,1e-19,1e-18],"tickSize":-5,"labels":false,"title":null}}}},
{"mark":{"type":"point","opacity":0},"encoding":{"x":{"field":"P","type":"quantitative","axis":{"orient":"top","values":[2,3,4,5,6,7,8,9,11,12,13,14],"tickSize":-2.5,"labels":false,"title":null}},"y":{"field":"Pdot","type":"quantitative","axis":{"orient":"right","values":[2e-22,3e-22,4e-22,5e-22,6e-22,7e-22,8e-22,9e-22,2e-21,3e-21,4e-21,5e-21,6e-21,7e-21,8e-21,9e-21,2e-20,3e-20,4e-20,5e-20,6e-20,7e-20,8e-20,9e-20,2e-19,3e-19,4e-19,5e-19,6e-19,7e-19,8e-19,9e-19],"tickSize":-2.5,"labels":false,"title":null}}}}
],"resolve":{"axis":{"x":"independent","y":"independent"}}},
{"title":"2D FP","data":{"name":"fp2d"},"width":121,"height":117,"layer":[
{"mark":{"type":"square","filled":true,"size":6,"color":"#0b6f0b","opacity":1},"encoding":{"x":{"field":"P","type":"quantitative","scale":{"type":"log","domain":[1,14.5],"nice":false},"axis":{"orient":"bottom","values":[1,10],"tickSize":-5,"labels":false,"title":null}},"y":{"field":"Pdot","type":"quantitative","scale":{"type":"log","domain":[1e-22,1e-18],"nice":false},"axis":{"orient":"left","values":[1e-22,1e-21,1e-20,1e-19,1e-18],"tickSize":-5,"labels":false,"title":null}}}},
{"mark":{"type":"point","opacity":0},"encoding":{"x":{"field":"P","type":"quantitative","axis":{"orient":"bottom","values":[2,3,4,5,6,7,8,9,11,12,13,14],"tickSize":-2.5,"labels":false,"title":null}},"y":{"field":"Pdot","type":"quantitative","axis":{"orient":"left","values":[2e-22,3e-22,4e-22,5e-22,6e-22,7e-22,8e-22,9e-22,2e-21,3e-21,4e-21,5e-21,6e-21,7e-21,8e-21,9e-21,2e-20,3e-20,4e-20,5e-20,6e-20,7e-20,8e-20,9e-20,2e-19,3e-19,4e-19,5e-19,6e-19,7e-19,8e-19,9e-19],"tickSize":-2.5,"labels":false,"title":null}}}},
{"mark":{"type":"point","opacity":0},"encoding":{"x":{"field":"P","type":"quantitative","axis":{"orient":"top","values":[1,10],"tickSize":-5,"labels":false,"title":null}},"y":{"field":"Pdot","type":"quantitative","axis":{"orient":"right","values":[1e-22,1e-21,1e-20,1e-19,1e-18],"tickSize":-5,"labels":false,"title":null}}}},
{"mark":{"type":"point","opacity":0},"encoding":{"x":{"field":"P","type":"quantitative","axis":{"orient":"top","values":[2,3,4,5,6,7,8,9,11,12,13,14],"tickSize":-2.5,"labels":false,"title":null}},"y":{"field":"Pdot","type":"quantitative","axis":{"orient":"right","values":[2e-22,3e-22,4e-22,5e-22,6e-22,7e-22,8e-22,9e-22,2e-21,3e-21,4e-21,5e-21,6e-21,7e-21,8e-21,9e-21,2e-20,3e-20,4e-20,5e-20,6e-20,7e-20,8e-20,9e-20,2e-19,3e-19,4e-19,5e-19,6e-19,7e-19,8e-19,9e-19],"tickSize":-2.5,"labels":false,"title":null}}}}
],"resolve":{"axis":{"x":"independent","y":"independent"}}},
{"title":"3D FP","data":{"name":"fp3d"},"width":121,"height":117,"layer":[
{"mark":{"type":"square","filled":true,"size":6,"color":"#0b6f0b","opacity":1},"encoding":{"x":{"field":"P","type":"quantitative","scale":{"type":"log","domain":[1,14.5],"nice":false},"axis":{"orient":"bottom","values":[1,10],"tickSize":-5,"labels":false,"title":null}},"y":{"field":"Pdot","type":"quantitative","scale":{"type":"log","domain":[1e-22,1e-18],"nice":false},"axis":{"orient":"left","values":[1e-22,1e-21,1e-20,1e-19,1e-18],"tickSize":-5,"labels":false,"title":null}}}},
{"mark":{"type":"point","opacity":0},"encoding":{"x":{"field":"P","type":"quantitative","axis":{"orient":"bottom","values":[2,3,4,5,6,7,8,9,11,12,13,14],"tickSize":-2.5,"labels":false,"title":null}},"y":{"field":"Pdot","type":"quantitative","axis":{"orient":"left","values":[2e-22,3e-22,4e-22,5e-22,6e-22,7e-22,8e-22,9e-22,2e-21,3e-21,4e-21,5e-21,6e-21,7e-21,8e-21,9e-21,2e-20,3e-20,4e-20,5e-20,6e-20,7e-20,8e-20,9e-20,2e-19,3e-19,4e-19,5e-19,6e-19,7e-19,8e-19,9e-19],"tickSize":-2.5,"labels":false,"title":null}}}},
{"mark":{"type":"point","opacity":0},"encoding":{"x":{"field":"P","type":"quantitative","axis":{"orient":"top","values":[1,10],"tickSize":-5,"labels":false,"title":null}},"y":{"field":"Pdot","type":"quantitative","axis":{"orient":"right","values":[1e-22,1e-21,1e-20,1e-19,1e-18],"tickSize":-5,"labels":false,"title":null}}}},
{"mark":{"type":"point","opacity":0},"encoding":{"x":{"field":"P","type":"quantitative","axis":{"orient":"top","values":[2,3,4,5,6,7,8,9,11,12,13,14],"tickSize":-2.5,"labels":false,"title":null}},"y":{"field":"Pdot","type":"quantitative","axis":{"orient":"right","values":[2e-22,3e-22,4e-22,5e-22,6e-22,7e-22,8e-22,9e-22,2e-21,3e-21,4e-21,5e-21,6e-21,7e-21,8e-21,9e-21,2e-20,3e-20,4e-20,5e-20,6e-20,7e-20,8e-20,9e-20,2e-19,3e-19,4e-19,5e-19,6e-19,7e-19,8e-19,9e-19],"tickSize":-2.5,"labels":false,"title":null}}}}
],"resolve":{"axis":{"x":"independent","y":"independent"}}},
{"title":"OG","data":{"name":"og"},"width":121,"height":117,"layer":[
{"mark":{"type":"square","filled":true,"size":6,"color":"#0b6f0b","opacity":1},"encoding":{"x":{"field":"P","type":"quantitative","scale":{"type":"log","domain":[1,14.5],"nice":false},"axis":{"orient":"bottom","values":[1,10],"tickSize":-5,"labelPadding":3,"labelExpr":"datum.value < 3 ? '10⁰' : '10¹'","title":"Spin Period (ms)","titlePadding":1}},"y":{"field":"Pdot","type":"quantitative","scale":{"type":"log","domain":[1e-22,1e-18],"nice":false},"axis":{"orient":"left","values":[1e-22,1e-21,1e-20,1e-19,1e-18],"tickSize":-5,"labelPadding":9,"labelExpr":"'10' + (datum.value > 5e-19 ? '⁻¹⁸' : datum.value > 5e-20 ? '⁻¹⁹' : datum.value > 5e-21 ? '⁻²⁰' : datum.value > 5e-22 ? '⁻²¹' : '⁻²²')","title":"Spin Period Derivative","titlePadding":3}}}},
{"mark":{"type":"point","opacity":0},"encoding":{"x":{"field":"P","type":"quantitative","axis":{"orient":"bottom","values":[2,3,4,5,6,7,8,9,11,12,13,14],"tickSize":-2.5,"labels":false,"title":null}},"y":{"field":"Pdot","type":"quantitative","axis":{"orient":"left","values":[2e-22,3e-22,4e-22,5e-22,6e-22,7e-22,8e-22,9e-22,2e-21,3e-21,4e-21,5e-21,6e-21,7e-21,8e-21,9e-21,2e-20,3e-20,4e-20,5e-20,6e-20,7e-20,8e-20,9e-20,2e-19,3e-19,4e-19,5e-19,6e-19,7e-19,8e-19,9e-19],"tickSize":-2.5,"labels":false,"title":null}}}},
{"mark":{"type":"point","opacity":0},"encoding":{"x":{"field":"P","type":"quantitative","axis":{"orient":"top","values":[1,10],"tickSize":-5,"labels":false,"title":null}},"y":{"field":"Pdot","type":"quantitative","axis":{"orient":"right","values":[1e-22,1e-21,1e-20,1e-19,1e-18],"tickSize":-5,"labels":false,"title":null}}}},
{"mark":{"type":"point","opacity":0},"encoding":{"x":{"field":"P","type":"quantitative","axis":{"orient":"top","values":[2,3,4,5,6,7,8,9,11,12,13,14],"tickSize":-2.5,"labels":false,"title":null}},"y":{"field":"Pdot","type":"quantitative","axis":{"orient":"right","values":[2e-22,3e-22,4e-22,5e-22,6e-22,7e-22,8e-22,9e-22,2e-21,3e-21,4e-21,5e-21,6e-21,7e-21,8e-21,9e-21,2e-20,3e-20,4e-20,5e-20,6e-20,7e-20,8e-20,9e-20,2e-19,3e-19,4e-19,5e-19,6e-19,7e-19,8e-19,9e-19],"tickSize":-2.5,"labels":false,"title":null}}}}
],"resolve":{"axis":{"x":"independent","y":"independent"}}},
{"title":"TPC","data":{"name":"tpc"},"width":121,"height":117,"layer":[
{"mark":{"type":"square","filled":true,"size":6,"color":"#0b6f0b","opacity":1},"encoding":{"x":{"field":"P","type":"quantitative","scale":{"type":"log","domain":[1,14.5],"nice":false},"axis":{"orient":"bottom","values":[1,10],"tickSize":-5,"labelPadding":3,"labelExpr":"datum.value < 3 ? '10⁰' : '10¹'","title":"Spin Period (ms)","titlePadding":1}},"y":{"field":"Pdot","type":"quantitative","scale":{"type":"log","domain":[1e-22,1e-18],"nice":false},"axis":{"orient":"left","values":[1e-22,1e-21,1e-20,1e-19,1e-18],"tickSize":-5,"labels":false,"title":null}}}},
{"mark":{"type":"point","opacity":0},"encoding":{"x":{"field":"P","type":"quantitative","axis":{"orient":"bottom","values":[2,3,4,5,6,7,8,9,11,12,13,14],"tickSize":-2.5,"labels":false,"title":null}},"y":{"field":"Pdot","type":"quantitative","axis":{"orient":"left","values":[2e-22,3e-22,4e-22,5e-22,6e-22,7e-22,8e-22,9e-22,2e-21,3e-21,4e-21,5e-21,6e-21,7e-21,8e-21,9e-21,2e-20,3e-20,4e-20,5e-20,6e-20,7e-20,8e-20,9e-20,2e-19,3e-19,4e-19,5e-19,6e-19,7e-19,8e-19,9e-19],"tickSize":-2.5,"labels":false,"title":null}}}},
{"mark":{"type":"point","opacity":0},"encoding":{"x":{"field":"P","type":"quantitative","axis":{"orient":"top","values":[1,10],"tickSize":-5,"labels":false,"title":null}},"y":{"field":"Pdot","type":"quantitative","axis":{"orient":"right","values":[1e-22,1e-21,1e-20,1e-19,1e-18],"tickSize":-5,"labels":false,"title":null}}}},
{"mark":{"type":"point","opacity":0},"encoding":{"x":{"field":"P","type":"quantitative","axis":{"orient":"top","values":[2,3,4,5,6,7,8,9,11,12,13,14],"tickSize":-2.5,"labels":false,"title":null}},"y":{"field":"Pdot","type":"quantitative","axis":{"orient":"right","values":[2e-22,3e-22,4e-22,5e-22,6e-22,7e-22,8e-22,9e-22,2e-21,3e-21,4e-21,5e-21,6e-21,7e-21,8e-21,9e-21,2e-20,3e-20,4e-20,5e-20,6e-20,7e-20,8e-20,9e-20,2e-19,3e-19,4e-19,5e-19,6e-19,7e-19,8e-19,9e-19],"tickSize":-2.5,"labels":false,"title":null}}}}
],"resolve":{"axis":{"x":"independent","y":"independent"}}},
{"title":"PSPC","data":{"name":"pspc"},"width":121,"height":117,"layer":[
{"mark":{"type":"square","filled":true,"size":6,"color":"#0b6f0b","opacity":1},"encoding":{"x":{"field":"P","type":"quantitative","scale":{"type":"log","domain":[1,14.5],"nice":false},"axis":{"orient":"bottom","values":[1,10],"tickSize":-5,"labelPadding":3,"labelExpr":"datum.value < 3 ? '10⁰' : '10¹'","title":"Spin Period (ms)","titlePadding":1}},"y":{"field":"Pdot","type":"quantitative","scale":{"type":"log","domain":[1e-22,1e-18],"nice":false},"axis":{"orient":"left","values":[1e-22,1e-21,1e-20,1e-19,1e-18],"tickSize":-5,"labels":false,"title":null}}}},
{"mark":{"type":"point","opacity":0},"encoding":{"x":{"field":"P","type":"quantitative","axis":{"orient":"bottom","values":[2,3,4,5,6,7,8,9,11,12,13,14],"tickSize":-2.5,"labels":false,"title":null}},"y":{"field":"Pdot","type":"quantitative","axis":{"orient":"left","values":[2e-22,3e-22,4e-22,5e-22,6e-22,7e-22,8e-22,9e-22,2e-21,3e-21,4e-21,5e-21,6e-21,7e-21,8e-21,9e-21,2e-20,3e-20,4e-20,5e-20,6e-20,7e-20,8e-20,9e-20,2e-19,3e-19,4e-19,5e-19,6e-19,7e-19,8e-19,9e-19],"tickSize":-2.5,"labels":false,"title":null}}}},
{"mark":{"type":"point","opacity":0},"encoding":{"x":{"field":"P","type":"quantitative","axis":{"orient":"top","values":[1,10],"tickSize":-5,"labels":false,"title":null}},"y":{"field":"Pdot","type":"quantitative","axis":{"orient":"right","values":[1e-22,1e-21,1e-20,1e-19,1e-18],"tickSize":-5,"labels":false,"title":null}}}},
{"mark":{"type":"point","opacity":0},"encoding":{"x":{"field":"P","type":"quantitative","axis":{"orient":"top","values":[2,3,4,5,6,7,8,9,11,12,13,14],"tickSize":-2.5,"labels":false,"title":null}},"y":{"field":"Pdot","type":"quantitative","axis":{"orient":"right","values":[2e-22,3e-22,4e-22,5e-22,6e-22,7e-22,8e-22,9e-22,2e-21,3e-21,4e-21,5e-21,6e-21,7e-21,8e-21,9e-21,2e-20,3e-20,4e-20,5e-20,6e-20,7e-20,8e-20,9e-20,2e-19,3e-19,4e-19,5e-19,6e-19,7e-19,8e-19,9e-19],"tickSize":-2.5,"labels":false,"title":null}}}}
],"resolve":{"axis":{"x":"independent","y":"independent"}}},
{"title":"Observed MSPs","data":{"name":"obs"},"width":121,"height":117,"layer":[
{"mark":{"type":"square","filled":true,"size":6,"color":"#0b6f0b","opacity":1},"encoding":{"x":{"field":"P","type":"quantitative","scale":{"type":"log","domain":[1,14.5],"nice":false},"axis":{"orient":"bottom","values":[1,10],"tickSize":-5,"labelPadding":3,"labelExpr":"datum.value < 3 ? '10⁰' : '10¹'","title":"Spin Period (ms)","titlePadding":1}},"y":{"field":"Pdot","type":"quantitative","scale":{"type":"log","domain":[1e-22,1e-18],"nice":false},"axis":{"orient":"left","values":[1e-22,1e-21,1e-20,1e-19,1e-18],"tickSize":-5,"labels":false,"title":null}}}},
{"mark":{"type":"point","opacity":0},"encoding":{"x":{"field":"P","type":"quantitative","axis":{"orient":"bottom","values":[2,3,4,5,6,7,8,9,11,12,13,14],"tickSize":-2.5,"labels":false,"title":null}},"y":{"field":"Pdot","type":"quantitative","axis":{"orient":"left","values":[2e-22,3e-22,4e-22,5e-22,6e-22,7e-22,8e-22,9e-22,2e-21,3e-21,4e-21,5e-21,6e-21,7e-21,8e-21,9e-21,2e-20,3e-20,4e-20,5e-20,6e-20,7e-20,8e-20,9e-20,2e-19,3e-19,4e-19,5e-19,6e-19,7e-19,8e-19,9e-19],"tickSize":-2.5,"labels":false,"title":null}}}},
{"mark":{"type":"point","opacity":0},"encoding":{"x":{"field":"P","type":"quantitative","axis":{"orient":"top","values":[1,10],"tickSize":-5,"labels":false,"title":null}},"y":{"field":"Pdot","type":"quantitative","axis":{"orient":"right","values":[1e-22,1e-21,1e-20,1e-19,1e-18],"tickSize":-5,"labels":false,"title":null}}}},
{"mark":{"type":"point","opacity":0},"encoding":{"x":{"field":"P","type":"quantitative","axis":{"orient":"top","values":[2,3,4,5,6,7,8,9,11,12,13,14],"tickSize":-2.5,"labels":false,"title":null}},"y":{"field":"Pdot","type":"quantitative","axis":{"orient":"right","values":[2e-22,3e-22,4e-22,5e-22,6e-22,7e-22,8e-22,9e-22,2e-21,3e-21,4e-21,5e-21,6e-21,7e-21,8e-21,9e-21,2e-20,3e-20,4e-20,5e-20,6e-20,7e-20,8e-20,9e-20,2e-19,3e-19,4e-19,5e-19,6e-19,7e-19,8e-19,9e-19],"tickSize":-2.5,"labels":false,"title":null}}}}
],"resolve":{"axis":{"x":"independent","y":"independent"}}}
],
"config":{
"view":{"stroke":"#999999","strokeWidth":1},
"axis":{"grid":false,"domain":false,"tickColor":"#888888","tickWidth":0.8,"labelFont":"Liberation Serif","labelFontSize":7.5,"labelColor":"#222222","titleFont":"Liberation Serif","titleFontSize":7.5,"titleFontWeight":"normal","titleColor":"#222222"},
"title":{"font":"Liberation Serif","fontSize":8.5,"fontWeight":"normal","color":"#222222","offset":2}
}
}
